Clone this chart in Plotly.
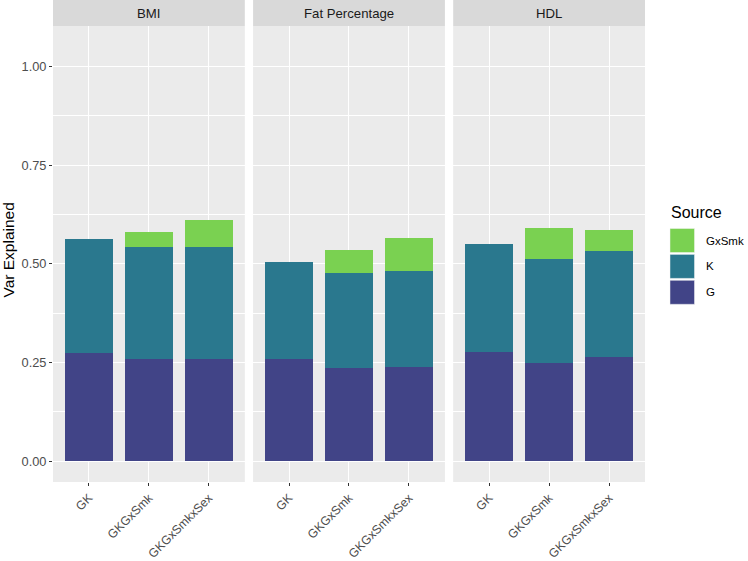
import plotly.graph_objects as go

panels = ["BMI", "Fat Percentage", "HDL"]
models = ["GK", "GKGxSmk", "GKGxSmkxSex"]
sources = ["G", "K", "GxSmk"]
colors = {"G": "#414487", "K": "#2A788E", "GxSmk": "#7AD151"}

values = {
    "BMI": {"G": [0.273, 0.258, 0.258], "K": [0.289, 0.285, 0.285], "GxSmk": [0.0, 0.039, 0.067]},
    "Fat Percentage": {"G": [0.260, 0.235, 0.239], "K": [0.246, 0.241, 0.242], "GxSmk": [0.0, 0.059, 0.085]},
    "HDL": {"G": [0.277, 0.249, 0.265], "K": [0.273, 0.264, 0.268], "GxSmk": [0.0, 0.077, 0.053]},
}

W, H = 748, 561
ml, mr, mt, mb = 53, 103, 26, 79
pw = W - ml - mr
ph = H - mt - mb
domains = [[0.0, 0.324], [0.338, 0.662], [0.676, 1.0]]
yrange = [-0.0525, 1.1025]

fig = go.Figure()
for i, p in enumerate(panels):
    xa = "x" if i == 0 else f"x{i+1}"
    ya = "y" if i == 0 else f"y{i+1}"
    for s in sources:
        fig.add_trace(go.Bar(
            x=list(range(len(models))), y=values[p][s], name=s,
            marker=dict(color=colors[s], line=dict(width=0)),
            width=0.8, xaxis=xa, yaxis=ya, showlegend=False,
        ))

font = "Liberation Sans, Arial, sans-serif"
layout = dict(
    width=W, height=H, barmode="stack",
    margin=dict(l=ml, r=mr, t=mt, b=mb, autoexpand=False),
    paper_bgcolor="white", plot_bgcolor="#EBEBEB",
    font=dict(family=font, color="#4D4D4D"),
    showlegend=False,
)
shapes = []
annotations = []
for i, p in enumerate(panels):
    xkey = "xaxis" if i == 0 else f"xaxis{i+1}"
    ykey = "yaxis" if i == 0 else f"yaxis{i+1}"
    xa = "x" if i == 0 else f"x{i+1}"
    layout[xkey] = dict(
        domain=domains[i], range=[-0.6, 2.6], tickvals=list(range(len(models))), ticktext=models,
        tickangle=-45, showgrid=True, gridcolor="white", gridwidth=1.1, zeroline=False,
        ticks="outside", ticklen=3, tickcolor="#333333", automargin=False,
        tickfont=dict(size=12.2, color="#4D4D4D"), anchor="y" if i == 0 else f"y{i+1}",
        fixedrange=True,
    )
    ydict = dict(
        range=yrange, tick0=0, dtick=0.25, tickformat=".2f",
        showgrid=True, gridcolor="white", gridwidth=1.1, zeroline=False,
        minor=dict(dtick=0.125, showgrid=True, gridcolor="white", gridwidth=0.5, ticks=""),
        anchor=xa, automargin=False, domain=[0, 1], fixedrange=True,
    )
    if i == 0:
        ydict.update(ticks="outside", ticklen=3, tickcolor="#333333",
                     tickfont=dict(size=12.8, color="#4D4D4D"))
    else:
        ydict.update(showticklabels=False, ticks="", matches="y")
    layout[ykey] = ydict
    xr = f"{xa} domain"
    shapes.append(dict(type="rect", xref=xr, x0=0, x1=1, yref="paper", y0=1, y1=1 + 26 / ph,
                       fillcolor="#D9D9D9", line=dict(width=0), layer="below"))
    annotations.append(dict(text=p, xref=xr, x=0.5, yref="paper", y=1 + 13 / ph, showarrow=False,
                            font=dict(size=13.2, color="#1A1A1A", family=font), xanchor="center", yanchor="middle"))

def px_x(px):
    return (px - ml) / pw

def px_y(py):
    return (H - mb - py) / ph

# y axis title
annotations.append(dict(text="Var Explained", xref="paper", yref="paper", x=px_x(7.5), y=px_y(250),
                        textangle=-90, showarrow=False, xanchor="center", yanchor="middle",
                        font=dict(size=15.5, color="black", family=font)))

# manual legend (ggplot style)
annotations.append(dict(text="Source", xref="paper", yref="paper", x=px_x(669), y=px_y(212.5), showarrow=False,
                        xanchor="left", yanchor="middle", font=dict(size=16, color="black", family=font)))
leg_order = ["GxSmk", "K", "G"]
for j, s in enumerate(leg_order):
    y0 = 228.5 + j * 25.9
    shapes.append(dict(type="rect", xref="paper", yref="paper", x0=px_x(670), x1=px_x(694.5),
                       y0=px_y(y0 + 24), y1=px_y(y0), fillcolor=colors[s], line=dict(color="#F2F2F2", width=0.5)))
    annotations.append(dict(text=s, xref="paper", yref="paper", x=px_x(704), y=px_y(y0 + 12), showarrow=False,
                            xanchor="left", yanchor="middle", font=dict(size=11.5, color="black", family=font)))

layout["shapes"] = shapes
layout["annotations"] = annotations
fig.update_layout(**layout)
fig.write_html("out.html", config={"displayModeBar": False},
               post_script="document.body.style.margin='0';document.body.style.overflow='hidden';")
